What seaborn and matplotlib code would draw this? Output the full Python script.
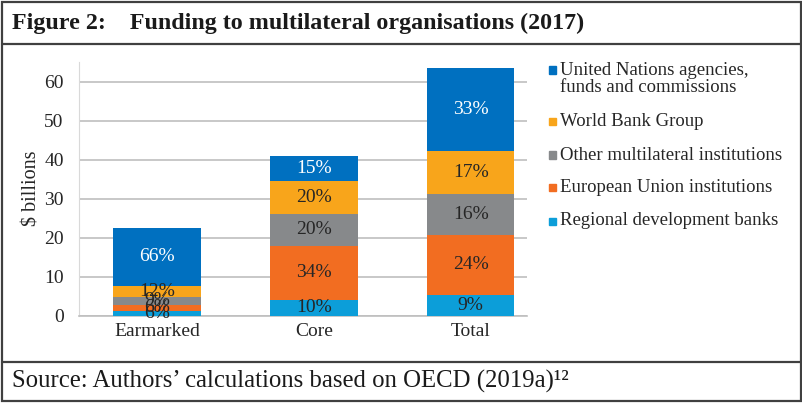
import matplotlib
matplotlib.use("Agg")
import matplotlib.pyplot as plt
import seaborn as sns
import numpy as np
from matplotlib.lines import Line2D
from matplotlib.patches import Rectangle

# data (USD billions)
categories = ["Earmarked", "Core", "Total"]
series = ["Regional development banks", "European Union institutions",
          "Other multilateral institutions", "World Bank Group",
          "United Nations agencies,\nfunds and commissions"]
regional = [1.4, 4.1, 5.5]
eu = [1.4, 13.9, 15.3]
other = [2.1, 8.2, 10.3]
world_bank = [2.7, 8.4, 11.1]
un = [15.0, 6.3, 21.3]
pct_regional = ["6%", "10%", "9%"]
pct_eu = ["6%", "34%", "24%"]
pct_other = ["9%", "20%", "16%"]
pct_world_bank = ["12%", "20%", "17%"]
pct_un = ["66%", "15%", "33%"]

colors = ["#0C9ED9", "#F26D21", "#87898B", "#F8A51B", "#0070C0"]
text_colors = ["#262626", "#262626", "#262626", "#262626", "white"]

sns.set_style("white")
plt.rcParams["font.family"] = ["Liberation Serif", "DejaVu Serif"]

fig = plt.figure(figsize=(8.03, 4.03), dpi=100)
ax = fig.add_axes([79 / 803, 1 - 316 / 403, (527 - 79) / 803, (316 - 62) / 403])

values = np.array([regional, eu, other, world_bank, un])
labels = [pct_regional, pct_eu, pct_other, pct_world_bank, pct_un]
tops = np.cumsum(values, axis=0)
bottoms = tops - values

# stacked bars: draw cumulative heights from the top segment down
for i in range(len(series) - 1, -1, -1):
    sns.barplot(x=categories, y=tops[i], color=colors[i], width=0.56,
                saturation=1, linewidth=0, ax=ax, zorder=3)

for i in range(len(series)):
    for j in range(len(categories)):
        ax.text(j, bottoms[i, j] + values[i, j] / 2, labels[i][j],
                ha="center", va="center", fontsize=14,
                color=text_colors[i], zorder=4)

ax.set_ylim(0, 65)
ax.set_xlim(-0.5, 2.36)
ax.set_yticks(range(0, 61, 10))
ax.yaxis.grid(True, color="#BFBFBF", linewidth=1.2, zorder=0)
ax.set_axisbelow(True)
for s in ["top", "right"]:
    ax.spines[s].set_visible(False)
ax.spines["left"].set_color("#D9D9D9")
ax.spines["bottom"].set_color("#BFBFBF")
ax.spines["bottom"].set_linewidth(1.2)
ax.tick_params(axis="y", length=4, color="#BFBFBF", pad=7, labelsize=14,
               labelcolor="#262626")
ax.tick_params(axis="x", length=0, pad=5, labelsize=14, labelcolor="#262626")
ax.set_xlabel("")
ax.set_ylabel("")
fig.text(32 / 803, 1 - 188 / 403, "\\$ billions", rotation=90, ha="center",
         va="center", fontsize=14.5, color="#262626")

# legend (UN on top, regional banks at the bottom)
leg_y = [221, 187, 155, 121, 79]
for i in range(len(series)):
    y = 1 - leg_y[i] / 403
    sq_y = y if i < 4 else 1 - 70 / 403
    fig.patches.append(Rectangle((549 / 803, sq_y - 3.5 / 403), 7 / 803, 7 / 403,
                                 transform=fig.transFigure, color=colors[i]))
    fig.text(560 / 803, y, series[i], ha="left", va="center", fontsize=13.5,
             color="#262626", linespacing=0.98)

# frame boxes
frame = dict(color="#404040", linewidth=1.6, transform=fig.transFigure)
fig.add_artist(Rectangle((2 / 803, 2 / 403), 799 / 803, 399 / 403, fill=False,
                         edgecolor="#404040", linewidth=1.6,
                         transform=fig.transFigure))
fig.add_artist(Line2D([2 / 803, 801 / 803], [1 - 44 / 403] * 2, **frame))
fig.add_artist(Line2D([2 / 803, 801 / 803], [1 - 362 / 403] * 2, **frame))

fig.text(12 / 803, 1 - 23 / 403,
         "Figure 2:    Funding to multilateral organisations (2017)",
         ha="left", va="center", fontsize=17.3, fontweight="bold", color="#1A1A1A")
fig.text(12 / 803, 1 - 381 / 403,
         "Source: Authors\u2019 calculations based on OECD (2019a)\u00b9\u00b2",
         ha="left", va="center", fontsize=17.8, color="#1A1A1A")

fig.savefig("out.png", dpi=100)
